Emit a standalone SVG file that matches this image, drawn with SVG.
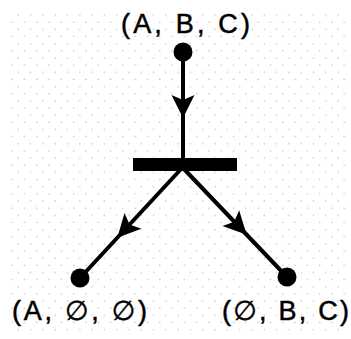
<svg xmlns="http://www.w3.org/2000/svg" width="351" height="339" viewBox="0 0 351 339">
  <style>
    .lbl { font-family: "Liberation Sans", Arial, "DejaVu Sans", sans-serif; font-size: 27px; fill: #000; stroke: #000; stroke-width: 0.5; }
    .edge { fill: none; stroke: #000; stroke-width: 4; stroke-linecap: round; marker-mid: url(#arr); }
    .place { fill: #000; }
  </style>
  <defs>
    <pattern id="dots" patternUnits="userSpaceOnUse" x="2.9" y="11.4" width="12.3" height="14.3">
      <rect x="2.5" y="3.1" width="1.2" height="1.2" fill="#b5b5b5"/>
      <rect x="8.65" y="10.25" width="1.2" height="1.2" fill="#b5b5b5"/>
    </pattern>
    <marker id="arr" markerUnits="userSpaceOnUse" viewBox="-24 -13 26 26" refX="0" refY="0" markerWidth="26" markerHeight="26" orient="auto">
      <path d="M1,0 L-22,-11.5 L-17,0 L-22,11.5 Z" fill="#000"/>
    </marker>
  </defs>
  <rect width="351" height="339" fill="#fff"/>
  <rect x="8" y="13" width="339" height="320" fill="url(#dots)"/>

  <g id="connectors">
    <path class="edge" d="M183,52 L183,117 L183,160"/>
    <path class="edge" d="M182,168 L118,237 L80,278"/>
    <path class="edge" d="M183,168 L246,234 L287,277"/>
  </g>

  <g id="transition">
    <rect x="133" y="158" width="104" height="13" fill="#000"/>
  </g>

  <g id="node-top">
    <circle class="place" cx="183" cy="52" r="9.5"/>
    <text class="lbl" x="121" y="33" textLength="129" lengthAdjust="spacing">(A, B, C)</text>
  </g>

  <g id="node-left">
    <circle class="place" cx="80" cy="278" r="9.5"/>
    <text class="lbl" x="12" y="320" textLength="135" lengthAdjust="spacing">(A, ∅, ∅)</text>
  </g>

  <g id="node-right">
    <circle class="place" cx="287" cy="277" r="9.5"/>
    <text class="lbl" x="222" y="320" textLength="127" lengthAdjust="spacing">(∅, B, C)</text>
  </g>
</svg>
